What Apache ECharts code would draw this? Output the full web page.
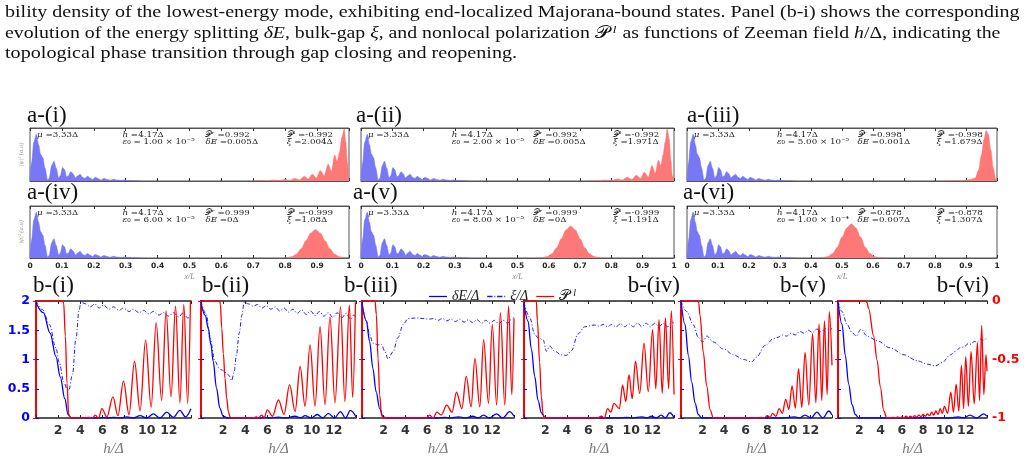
<!DOCTYPE html>
<html>
<head>
<meta charset="utf-8">
<script src="https://cdn.jsdelivr.net/npm/echarts@6/dist/echarts.min.js"></script>
<style>
  html, body { margin: 0; padding: 0; background: #fff; }
  #chart { width: 1028px; height: 463px; }
</style>
</head>
<body>
<div id="chart"></div>
<script>
// ---- data: panel a, |psi|^2 profiles along x/L ----
const aBlue = [[0,0],[0.005,0.35],[0.012,0.75],[0.02,0.9],[0.027,0.7],[0.033,0.52],[0.04,0.45],[0.047,0.25],[0.055,0.02],[0.06,0.05],[0.068,0.3],[0.075,0.38],[0.082,0.25],[0.09,0.06],[0.095,0.1],[0.102,0.26],[0.108,0.22],[0.115,0.08],[0.12,0.1],[0.128,0.18],[0.135,0.14],[0.142,0.06],[0.15,0.1],[0.157,0.13],[0.165,0.07],[0.172,0.05],[0.18,0.09],[0.188,0.06],[0.196,0.03],[0.205,0.07],[0.213,0.05],[0.222,0.02],[0.232,0.05],[0.242,0.03],[0.252,0.015],[0.262,0.035],[0.272,0.02],[0.285,0.01],[0.295,0.02],[0.31,0.008],[0.33,0.005],[0.35,0]]
const aRed1 = [[0.70,0],[0.72,0.01],[0.74,0.005],[0.76,0.02],[0.78,0.01],[0.8,0.03],[0.815,0.015],[0.83,0.05],[0.845,0.02],[0.86,0.09],[0.872,0.04],[0.885,0.13],[0.898,0.06],[0.91,0.2],[0.922,0.1],[0.935,0.32],[0.945,0.18],[0.955,0.5],[0.963,0.38],[0.97,0.55],[0.978,0.85],[0.985,1.0],[0.99,0.75],[0.995,0.35],[1,0]]
const aRed2 = [[0.72,0],[0.75,0.01],[0.78,0.02],[0.8,0.01],[0.82,0.04],[0.835,0.02],[0.85,0.07],[0.865,0.03],[0.88,0.11],[0.893,0.05],[0.905,0.17],[0.918,0.08],[0.93,0.3],[0.94,0.15],[0.95,0.4],[0.958,0.3],[0.965,0.5],[0.972,0.75],[0.978,1.0],[0.985,0.8],[0.99,0.4],[0.995,0.1],[1,0]]
const aRed3 = [[0.84,0],[0.86,0.01],[0.88,0.005],[0.9,0.02],[0.915,0.03],[0.93,0.06],[0.94,0.2],[0.95,0.5],[0.958,0.8],[0.965,0.97],[0.972,0.9],[0.98,0.6],[0.988,0.25],[0.995,0.05],[1,0]]
const aRed4 = [[0.79,0],[0.805,0.006],[0.82,0.025],[0.835,0.075],[0.85,0.18],[0.865,0.34],[0.88,0.49],[0.895,0.56],[0.91,0.49],[0.925,0.34],[0.94,0.18],[0.955,0.075],[0.97,0.025],[0.985,0.006],[1,0]]
const aRed5 = [[0.565,0],[0.58,0.007],[0.595,0.028],[0.61,0.085],[0.625,0.2],[0.64,0.38],[0.655,0.55],[0.67,0.63],[0.685,0.55],[0.7,0.38],[0.715,0.2],[0.73,0.085],[0.745,0.028],[0.76,0.007],[0.775,0]]
const aRed6 = [[0.425,0],[0.44,0.007],[0.455,0.03],[0.47,0.09],[0.485,0.21],[0.5,0.41],[0.515,0.59],[0.53,0.67],[0.545,0.59],[0.56,0.41],[0.575,0.21],[0.59,0.09],[0.605,0.03],[0.62,0.007],[0.635,0]]
const aReds = [aRed1, aRed2, aRed3, aRed4, aRed5, aRed6]

const aNames = ['a-(i)', 'a-(ii)', 'a-(iii)', 'a-(iv)', 'a-(v)', 'a-(vi)']
const muTxt = ['3.33', '3.33', '3.33', '3.33', '3.33', '3.33']
const hTxt = ['4.17', '4.17', '4.17', '4.17', '4.17', '4.17']
const epsTxt = ['1.00 × 10⁻⁵', '2.00 × 10⁻⁵', '5.00 × 10⁻⁵', '6.00 × 10⁻⁵', '8.00 × 10⁻⁵', '1.00 × 10⁻⁴']
const prTxt = ['0.992', '0.992', '0.998', '0.999', '0.999', '0.878']
const dETxt = ['0.005', '0.005', '0.001', '0', '0', '0.007']
const plTxt = ['-0.992', '-0.992', '-0.998', '-0.999', '-0.999', '-0.878']
const xiTxt = ['2.004', '1.971', '1.679', '1.08', '1.191', '1.307']
const xLTicks = ['0', '0.1', '0.2', '0.3', '0.4', '0.5', '0.6', '0.7', '0.8', '0.9', '1']

// ---- data: panel b, vs h/Delta ----
const dE1 = [[0,1.97],[0.66,1.8],[1.27,1.45],[1.8,1.05],[2.2,0.7],[2.6,0.33],[2.9,0.06],[3.2,0],[5.5,0],[6,0.005],[6.5,0],[7,0.01],[7.6,0],[8.2,0.02],[8.8,0],[9.4,0.04],[10,0],[10.6,0.07],[11.2,0],[11.8,0.1],[12.4,0.01],[13,0.13],[13.5,0.02],[14,0.16]]
const xi1 = [[0,2],[0.6,1.85],[1.2,1.6],[1.8,1.2],[2.1,0.95],[2.5,0.62],[2.8,0.5],[2.95,0.47],[3.3,0.75],[3.6,1.35],[3.9,1.85],[4.05,1.98],[4.5,1.95],[4.9,1.9],[5.3,1.95],[5.7,1.88],[6.1,1.93],[6.6,1.86],[7.0,1.9],[7.5,1.84],[7.9,1.88],[8.4,1.82],[8.8,1.86],[9.3,1.8],[9.7,1.84],[10.2,1.78],[10.6,1.82],[11.1,1.76],[11.5,1.8],[12,1.74],[12.4,1.8],[12.9,1.73],[13.3,1.8],[13.7,1.71],[14,1.74]]
const P1 = [[0,0],[2.4,0],[2.5,-0.02],[2.65,-0.3],[2.8,-0.7],[2.95,-0.97],[3.1,-1],[4.4,-1],[4.8,-0.995],[5.1,-1],[5.35,-0.975],[5.65,-1],[5.95,-0.92],[6.4,-0.99],[6.95,-0.82],[7.4,-0.98],[7.9,-0.685],[8.4,-0.97],[8.9,-0.515],[9.4,-0.94],[9.9,-0.335],[10.4,-0.91],[10.85,-0.185],[11.35,-0.85],[11.75,-0.085],[12.2,-0.82],[12.6,-0.045],[13.0,-0.87],[13.35,-0.03],[13.7,-0.875],[13.95,-0.005]]

const dE2 = [[0,1.96],[0.4,1.75],[0.66,1.53],[0.9,1.25],[1.1,0.97],[1.4,0.51],[1.7,0.17],[2.0,0.03],[2.4,0],[5.4,0],[5.8,0.01],[6.2,0],[7.0,0.015],[7.6,0],[8.5,0.03],[9,0],[9.4,0.04],[9.95,0],[10.5,0.06],[11,0],[11.5,0.08],[12.05,0],[12.6,0.11],[13.05,0],[13.5,0.13],[14,0.02]]
const xi2 = [[0,2],[0.5,1.76],[0.8,1.36],[1.27,0.97],[1.6,0.86],[1.87,0.82],[2.3,0.77],[2.55,0.72],[2.77,0.64],[3.0,0.8],[3.2,1.08],[3.45,1.45],[3.7,1.76],[3.9,1.98],[4.3,1.95],[4.7,1.91],[5.1,1.94],[5.5,1.88],[5.9,1.92],[6.3,1.86],[6.7,1.9],[7.1,1.83],[7.5,1.88],[7.9,1.81],[8.3,1.86],[8.7,1.79],[9.1,1.85],[9.5,1.77],[9.9,1.83],[10.3,1.75],[10.7,1.82],[11.1,1.74],[11.5,1.8],[11.9,1.72],[12.3,1.8],[12.7,1.71],[13.1,1.79],[13.5,1.69],[13.8,1.76],[14,1.72]]
const P2 = [[0,0],[1.7,0],[1.75,-0.03],[1.87,-0.23],[2.02,-0.45],[2.17,-0.66],[2.32,-0.83],[2.47,-0.945],[2.62,-0.99],[2.77,-1],[4.7,-1],[5.0,-0.99],[5.2,-1],[5.45,-0.975],[5.7,-0.995],[6.0,-0.93],[6.45,-0.985],[7.0,-0.845],[7.5,-0.97],[8.0,-0.715],[8.5,-0.945],[8.95,-0.56],[9.4,-0.9],[9.85,-0.375],[10.3,-0.9],[10.75,-0.22],[11.2,-0.885],[11.65,-0.135],[12.1,-0.87],[12.6,-0.05],[13.0,-0.86],[13.4,-0.035],[13.7,-0.825],[13.95,-0.01]]

const dE3 = [[0,1.97],[0.4,1.66],[0.7,1.31],[1.0,0.85],[1.3,0.45],[1.63,0.16],[1.94,0.02],[2.3,0],[7,0],[7.6,0.01],[8.1,0],[8.9,0.02],[9.5,0],[10.2,0.03],[10.7,0],[11.2,0.05],[11.7,0],[12.4,0.07],[12.95,0],[13.6,0.11],[14,0.03]]
const xi3 = [[0,1.97],[0.4,1.66],[0.7,1.43],[1.0,1.28],[1.48,1.25],[1.8,1.26],[2.1,1.14],[2.4,1.01],[2.86,1.13],[3.3,1.37],[3.8,1.6],[4.25,1.7],[5,1.71],[5.6,1.7],[6.2,1.69],[6.6,1.7],[7,1.67],[7.4,1.7],[7.8,1.66],[8.2,1.69],[8.6,1.65],[9,1.69],[9.4,1.64],[9.8,1.68],[10.2,1.63],[10.6,1.68],[11,1.62],[11.4,1.67],[11.8,1.62],[12.2,1.67],[12.6,1.61],[13,1.67],[13.4,1.62],[13.7,1.68],[14,1.72]]
const P3 = [[0,0],[1.2,0],[1.32,-0.115],[1.48,-0.49],[1.63,-0.805],[1.8,-0.975],[1.95,-1],[5.9,-1],[6.25,-0.975],[6.55,-1],[6.9,-0.95],[7.3,-0.975],[7.8,-0.89],[8.3,-0.95],[8.7,-0.78],[9.2,-0.92],[9.6,-0.645],[10.05,-0.905],[10.4,-0.49],[10.85,-0.905],[11.2,-0.33],[11.65,-0.875],[12.0,-0.2],[12.4,-0.89],[12.75,-0.1],[13.15,-0.89],[13.5,-0.045],[13.8,-0.8],[14,-0.15]]

const dE4 = [[0,1.95],[0.37,1.66],[0.69,1.18],[1.0,0.71],[1.31,0.3],[1.62,0.09],[1.93,0.01],[2.3,0],[9,0],[9.6,0.01],[10.1,0],[11,0.02],[11.5,0],[11.9,0.03],[12.35,0],[12.8,0.05],[13.2,0],[13.6,0.09],[14,0.01]]
const xi4 = [[0,1.98],[0.53,1.72],[1.0,1.43],[1.3,1.37],[1.78,1.34],[2.1,1.14],[2.4,1.23],[2.87,1.14],[3.5,1.08],[3.96,1.07],[4.42,1.15],[5.05,1.44],[5.67,1.56],[6.6,1.59],[7.0,1.57],[7.4,1.6],[7.8,1.56],[8.2,1.6],[8.6,1.56],[9.0,1.61],[9.4,1.56],[9.8,1.61],[10.2,1.56],[10.6,1.62],[11,1.56],[11.4,1.62],[11.8,1.56],[12.2,1.62],[12.6,1.56],[13.0,1.62],[13.4,1.56],[13.8,1.64],[14,1.62]]
const P4 = [[0,0],[1.15,0],[1.25,-0.17],[1.46,-0.525],[1.62,-0.82],[1.78,-0.97],[1.93,-1],[6.9,-1],[7.2,-0.985],[7.5,-1],[7.8,-0.92],[8.1,-0.95],[8.4,-0.875],[8.9,-0.92],[9.2,-0.72],[9.5,-0.86],[9.8,-0.63],[10.1,-0.835],[10.4,-0.515],[10.8,-0.79],[11.2,-0.36],[11.6,-0.775],[12.0,-0.245],[12.3,-0.75],[12.6,-0.16],[12.9,-0.79],[13.2,-0.145],[13.5,-0.75],[13.75,-0.085],[14,-0.8]]

const dE5 = [[0,2.0],[0.37,1.6],[0.68,1.07],[1.0,0.61],[1.3,0.26],[1.6,0.06],[1.9,0],[9.5,0],[10.5,0.02],[11,0],[11.5,0.05],[12.05,0],[12.6,0.1],[13.15,0],[13.7,0.12],[14,0.05]]
const xi5 = [[0,2],[0.53,1.82],[1.15,1.59],[1.6,1.38],[2.0,1.3],[2.4,1.4],[3.0,1.3],[3.93,1.18],[4.86,1.08],[5.8,1.0],[6.56,0.96],[7.0,1.04],[7.8,1.24],[8.6,1.36],[9.0,1.38],[9.4,1.42],[9.8,1.4],[10.2,1.45],[10.6,1.42],[11.0,1.48],[11.4,1.45],[11.8,1.5],[12.2,1.46],[12.6,1.52],[13.0,1.47],[13.4,1.53],[13.8,1.5],[14,1.54]]
const P5 = [[0,0],[1.6,0],[1.65,-0.02],[1.76,-0.12],[2.07,-0.44],[2.38,-0.725],[2.7,-0.93],[3.0,-1],[7.0,-1],[7.4,-0.995],[7.7,-1],[8.0,-0.98],[8.25,-0.995],[8.5,-0.96],[8.8,-0.985],[9.1,-0.92],[9.4,-0.96],[9.7,-0.84],[10.0,-0.925],[10.3,-0.725],[10.6,-0.915],[10.9,-0.58],[11.2,-0.91],[11.5,-0.44],[11.85,-0.89],[12.2,-0.28],[12.5,-0.87],[12.8,-0.195],[13.05,-0.85],[13.3,-0.17],[13.55,-0.8],[13.75,-0.09],[14,-0.55]]

const dE6 = [[0,2.0],[0.38,1.6],[0.69,1.07],[1.0,0.58],[1.32,0.23],[1.63,0.06],[1.95,0],[10.5,0],[11.3,0.02],[11.8,0],[12.4,0.05],[13.0,0],[13.7,0.07],[14,0.03]]
const xi6 = [[0,2],[0.38,1.82],[0.85,1.6],[1.32,1.46],[1.72,1.4],[2.16,1.52],[2.73,1.4],[3.67,1.32],[4.9,1.2],[6.2,1.08],[7.43,0.98],[8.37,0.92],[9.15,0.89],[9.8,0.95],[10.56,1.08],[11.0,1.14],[11.5,1.2],[11.9,1.22],[12.2,1.27],[12.5,1.26],[12.8,1.31],[13.1,1.3],[13.4,1.35],[13.7,1.33],[14,1.38]]
const P6 = [[0,0],[2.6,0],[2.7,-0.01],[2.88,-0.065],[3.35,-0.3],[3.67,-0.505],[3.98,-0.735],[4.3,-0.94],[4.6,-1],[5.0,-1],[5.2,-0.995],[5.4,-1],[5.6,-0.99],[5.8,-1],[6.0,-0.99],[6.2,-0.998],[6.4,-0.985],[6.6,-0.997],[6.8,-0.985],[7.0,-0.995],[7.2,-0.98],[7.4,-0.993],[7.6,-0.975],[7.8,-0.99],[8.0,-0.97],[8.2,-0.985],[8.4,-0.965],[8.6,-0.98],[8.8,-0.95],[9.0,-0.975],[9.2,-0.94],[9.4,-0.97],[9.6,-0.92],[9.8,-0.96],[10.0,-0.9],[10.3,-0.96],[10.6,-0.78],[10.85,-0.95],[11.1,-0.71],[11.35,-0.94],[11.6,-0.55],[11.8,-0.92],[12.0,-0.475],[12.25,-0.9],[12.5,-0.43],[12.8,-0.88],[13.1,-0.355],[13.3,-0.85],[13.5,-0.21],[13.7,-0.8],[13.9,-0.46],[14,-0.6]]

const dEs = [dE1, dE2, dE3, dE4, dE5, dE6]
const xis = [xi1, xi2, xi3, xi4, xi5, xi6]
const Ps = [P1, P2, P3, P4, P5, P6]
const bNames = ['b-(i)', 'b-(ii)', 'b-(iii)', 'b-(iv)', 'b-(v)', 'b-(vi)']
const hTicks = ['2', '4', '6', '8', '10', '12']
const leftTicks = ['0', '0.5', '1', '1.5', '2']
const rightTicks = ['-1', '-0.5', '0']
const legendNames = ['δE/Δ', 'ξ/Δ', '𝒫l']

// ---- layout ----
const aBox = [[30,128,319,53],[361,128,313,53],[687,128,310,53],[30,206,319,52],[361,206,313,52],[687,206,310,52]]
const aLabelPos = [[27,117],[356,117],[687,117],[27,194],[353,194],[683,194]]
const bBox = [[36,301,155,117],[201,301,155,117],[362,301,152,117],[524,301,150,117],[681,301,151,117],[838,301,149,117]]
const bLabelPos = [[33,288,'left'],[202,288,'left'],[344,288,'left'],[680,288,'right'],[826,288,'right'],[989,288,'right']]

const myChart = echarts.init(document.getElementById('chart'))

const grid = []
const xAxis = []
const yAxis = []
const series = []
const graphic = []

const serif = 'Liberation Serif'

// caption
const capLines = [
  'bility density of the lowest-energy mode, exhibiting end-localized Majorana-bound states. Panel (b-i) shows the corresponding',
  'evolution of the energy splitting {i|δE}, bulk-gap {i|ξ}, and nonlocal polarization {p|𝒫}{s|l} as functions of Zeeman field {i|h}/Δ, indicating the',
  'topological phase transition through gap closing and reopening.'
]
const capScale = [1.213, 1.2, 1.22]
capLines.forEach((t, k) => {
  graphic.push({
    type: 'text', left: 5, top: 4 + k * 20.5, scaleX: capScale[k],
    style: {
      text: t, font: '16.5px ' + serif, fill: '#111',
      rich: {
        i: { fontStyle: 'italic', fontFamily: serif, fontSize: 16.5 },
        p: { fontFamily: serif, fontSize: 16.5 },
        s: { fontStyle: 'italic', fontFamily: serif, fontSize: 11, padding: [0, 1, 7, 3] }
      }
    }
  })
})

// panel a
aBox.forEach((b, i) => {
  grid.push({ left: b[0], top: b[1], width: b[2], height: b[3], show: true, borderColor: '#555', borderWidth: 1 })
  yAxis.push({
    type: 'value', gridIndex: i, min: 0, max: 1.02,
    axisLine: { show: false }, axisTick: { show: false }, axisLabel: { show: false }, splitLine: { show: false },
    name: (i % 3 === 0) ? '|ψ|² (a.u)' : '', nameLocation: 'middle', nameGap: 5,
    nameTextStyle: { fontSize: 6.5, color: '#9a9a9a', fontFamily: serif, fontStyle: 'italic' }
  })
})
aBox.forEach((b, i) => {
  const bottom = i >= 3
  xAxis.push({
    type: 'value', gridIndex: i, min: 0, max: 1, interval: 0.1, position: 'bottom',
    axisLine: { lineStyle: { color: '#555' } },
    axisTick: { inside: true, length: 3, lineStyle: { color: '#333' } },
    axisLabel: {
      show: bottom, fontSize: 7.5, fontWeight: 'bold', fontFamily: 'DejaVu Sans', color: '#222', margin: 4,
      formatter: v => xLTicks[Math.round(v * 10)]
    },
    splitLine: { show: false },
    name: bottom ? 'x/L' : '', nameLocation: 'middle', nameGap: 15,
    nameTextStyle: { fontSize: 8, color: '#888', fontFamily: serif, fontStyle: 'italic' }
  })
})
aBox.forEach((b, i) => {
  xAxis.push({
    type: 'value', gridIndex: i, min: 0, max: 1, interval: 0.1, position: 'top',
    axisLine: { lineStyle: { color: '#555' } },
    axisTick: { inside: true, length: 3, lineStyle: { color: '#333' } },
    axisLabel: { show: false }, splitLine: { show: false }
  })
})
aBox.forEach((b, i) => {
  series.push({
    type: 'line', xAxisIndex: i, yAxisIndex: i, data: aBlue, symbol: 'none', silent: true,
    smooth: 0.3, smoothMonotone: 'x',
    lineStyle: { width: 0.5, color: '#7070f4' }, areaStyle: { color: '#7878f6', opacity: 1 }
  })
  series.push({
    type: 'line', xAxisIndex: i, yAxisIndex: i, data: aReds[i], symbol: 'none', silent: true,
    smooth: 0.3, smoothMonotone: 'x',
    lineStyle: { width: 0.5, color: '#ff7070' }, areaStyle: { color: '#ff7878', opacity: 1 }
  })
  // labels and annotations
  graphic.push({
    type: 'text', left: aLabelPos[i][0], top: aLabelPos[i][1] - 13,
    style: { text: aNames[i], font: '23px ' + serif, fill: '#111' }
  })
  const annot = [
    '{m|μ} =' + muTxt[i] + 'Δ',
    '{m|h} =' + hTxt[i] + 'Δ\n{m|ε}₀ = ' + epsTxt[i],
    '𝒫ʳ =' + prTxt[i] + '\n{m|δE} =' + dETxt[i] + 'Δ',
    '𝒫ˡ =' + plTxt[i] + '\n{m|ξ} =' + xiTxt[i] + 'Δ'
  ]
  const fr = [0.022, 0.29, 0.55, 0.805]
  annot.forEach((t, k) => {
    graphic.push({
      type: 'text', left: b[0] + fr[k] * b[2], top: b[1] + 2.5, scaleX: 1.06,
      style: {
        text: t, fontSize: 8.2, fontFamily: 'DejaVu Serif', fill: '#222', lineHeight: 7.3,
        rich: { m: { fontSize: 8.2, fontFamily: 'DejaVu Serif', fontStyle: 'italic', lineHeight: 7.3 } }
      }
    })
  })
})

// panel b
bBox.forEach((b, i) => {
  grid.push({ left: b[0], top: b[1], width: b[2], height: b[3] })
})
bBox.forEach((b, i) => {
  xAxis.push({
    type: 'value', gridIndex: 6 + i, min: 0, max: 14, interval: 2, position: 'bottom',
    axisLine: { lineStyle: { color: '#222', width: 1.5 } },
    axisTick: { inside: true, length: 3, lineStyle: { color: '#222' } },
    axisLabel: {
      fontSize: 12.5, fontWeight: 'bold', fontFamily: 'DejaVu Sans', color: '#333', margin: 6,
      formatter: v => (v >= 2 && v <= 12) ? hTicks[v / 2 - 1] : ''
    },
    splitLine: { show: false },
    name: 'h/Δ', nameLocation: 'middle', nameGap: 24,
    nameTextStyle: { fontSize: 15, color: '#777', fontFamily: serif, fontStyle: 'italic' }
  })
})
bBox.forEach((b, i) => {
  xAxis.push({
    type: 'value', gridIndex: 6 + i, min: 0, max: 14, interval: 2, position: 'top',
    axisLine: { lineStyle: { color: '#222', width: 1.5 } },
    axisTick: { inside: true, length: 3, lineStyle: { color: '#222' } },
    axisLabel: { show: false }, splitLine: { show: false }
  })
})
bBox.forEach((b, i) => {
  yAxis.push({
    type: 'value', gridIndex: 6 + i, min: 0, max: 2, interval: 0.5, position: 'left',
    axisLine: { show: true, lineStyle: { color: '#0000ff', width: 2 } },
    axisTick: { show: true, inside: true, length: 3, lineStyle: { color: '#0000ff' } },
    axisLabel: {
      show: i === 0, fontSize: 12.5, fontWeight: 'bold', fontFamily: 'DejaVu Sans', color: '#0000ff', margin: 6,
      formatter: v => leftTicks[Math.round(v * 2)]
    },
    splitLine: { show: false }
  })
})
bBox.forEach((b, i) => {
  yAxis.push({
    type: 'value', gridIndex: 6 + i, min: -1, max: 0, interval: 0.5, position: 'right',
    axisLine: { show: true, lineStyle: { color: '#ff0000', width: 2 } },
    axisTick: { show: true, inside: true, length: 3, lineStyle: { color: '#ff0000' } },
    axisLabel: {
      show: i === 5, fontSize: 12.5, fontWeight: 'bold', fontFamily: 'DejaVu Sans', color: '#ff0000', margin: 5,
      formatter: v => rightTicks[Math.round((v + 1) * 2)]
    },
    splitLine: { show: false }
  })
})
bBox.forEach((b, i) => {
  series.push({
    name: legendNames[0], type: 'line', xAxisIndex: 12 + i, yAxisIndex: 6 + i, data: dEs[i],
    symbol: 'none', smooth: 0.35, smoothMonotone: 'x', color: '#0000ff',
    lineStyle: { width: 1.3, color: '#0000ff' }
  })
  series.push({
    name: legendNames[1], type: 'line', xAxisIndex: 12 + i, yAxisIndex: 6 + i, data: xis[i],
    symbol: 'none', smooth: 0.35, smoothMonotone: 'x', color: '#1a1aff',
    lineStyle: { width: 1, color: '#1a1aff', type: [4, 2, 1, 2] }
  })
  series.push({
    name: legendNames[2], type: 'line', xAxisIndex: 12 + i, yAxisIndex: 12 + i, data: Ps[i],
    symbol: 'none', smooth: 0.35, smoothMonotone: 'x', color: '#ff0000',
    lineStyle: { width: 1.3, color: '#ff0000' }
  })
  graphic.push({
    type: 'text',
    left: bLabelPos[i][2] === 'left' ? bLabelPos[i][0] : undefined,
    right: bLabelPos[i][2] === 'right' ? 1028 - bLabelPos[i][0] : undefined,
    top: bLabelPos[i][1] - 14,
    style: { text: bNames[i], font: '23px ' + serif, fill: '#111' }
  })
})

const option = {
  animation: false,
  grid: grid,
  xAxis: xAxis,
  yAxis: yAxis,
  series: series,
  graphic: graphic,
  legend: {
    left: 424, top: 283, itemWidth: 18, itemHeight: 10, itemGap: 8,
    data: [
      { name: legendNames[0], icon: 'path://M0,0H20V1.4H0Z' },
      { name: legendNames[1], icon: 'path://M0,0H6V1.4H0Z M8,0H9V1.4H8Z M11,0H17V1.4H11Z M19,0H20V1.4H19Z' },
      { name: legendNames[2], icon: 'path://M0,0H20V1.4H0Z' }
    ],
    formatter: n => n === legendNames[2] ? '{p|𝒫}{s|l}' : n,
    textStyle: {
      fontSize: 14, fontFamily: serif, fontStyle: 'italic', color: '#222',
      rich: {
        p: { fontSize: 15, fontFamily: serif, fontStyle: 'normal', color: '#222' },
        s: { fontSize: 10, fontFamily: serif, fontStyle: 'italic', color: '#222', padding: [0, 0, 7, 3] }
      }
    }
  }
}

option && myChart.setOption(option)
</script>
</body>
</html>
